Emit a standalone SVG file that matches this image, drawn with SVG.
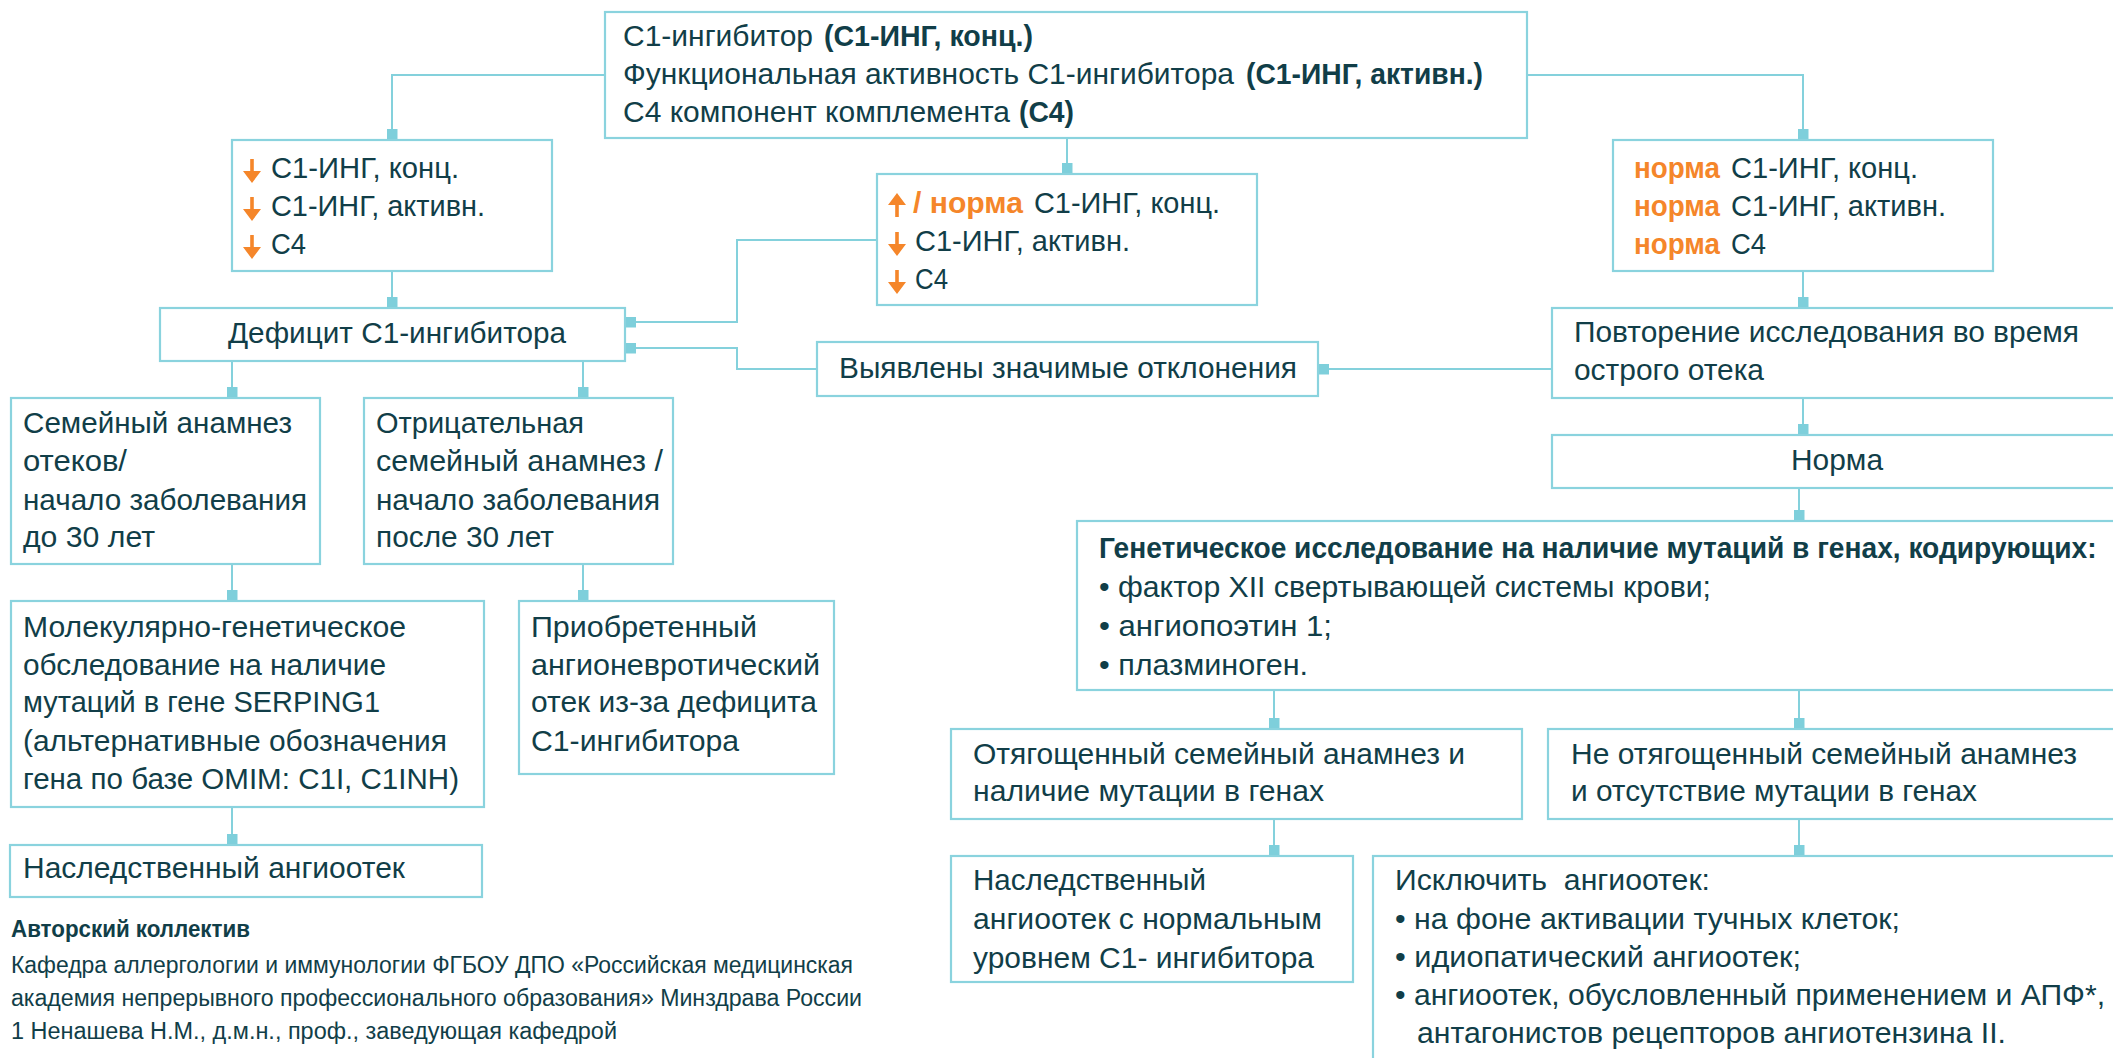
<svg xmlns="http://www.w3.org/2000/svg" xmlns:xlink="http://www.w3.org/1999/xlink" width="2113" height="1058" viewBox="0 0 2113 1058">
<style>
.box{fill:#ffffff;stroke:#8ad3de;stroke-width:2.2}
.c{fill:none;stroke:#84d1dc;stroke-width:2;marker-end:url(#sq)}
.t{font-family:"Liberation Sans",Arial,sans-serif;font-size:29px;fill:#113e48}
.b{font-weight:bold}
.o{fill:#f5862a;font-weight:bold}
.f{font-size:23px}
.arr{fill:#f5862a}
</style>
<defs>
<marker id="sq" markerUnits="userSpaceOnUse" markerWidth="11" markerHeight="11" viewBox="0 0 11 11" refX="11" refY="5.5" orient="auto"><rect width="11" height="11" fill="#7ecfdb"/></marker>
<path id="ad" class="arr" d="M-1.8,0 H1.8 V12 H9 L0,24 L-9,12 H-1.8 Z"/>
<path id="au" class="arr" d="M-1.8,24 H1.8 V12 H9 L0,0 L-9,12 H-1.8 Z"/>
</defs>
<rect width="2113" height="1058" fill="#ffffff"/>

<g id="connectors">
<path class="c" d="M605,75 H392 V140"/>
<path class="c" d="M1527,75 H1803 V140"/>
<path class="c" d="M1067,138 V174"/>
<path class="c" d="M392,271 V308"/>
<path class="c" d="M877,240 H737 V322 H625"/>
<path class="c" d="M817,369 H737 V348 H625"/>
<path class="c" d="M1803,271 V308"/>
<path class="c" d="M1552,369 H1318"/>
<path class="c" d="M1803,398 V435"/>
<path class="c" d="M1799,488 V521"/>
<path class="c" d="M1274,690 V729"/>
<path class="c" d="M1799,690 V729"/>
<path class="c" d="M1274,819 V856"/>
<path class="c" d="M1799,819 V856"/>
<path class="c" d="M232,361 V398"/>
<path class="c" d="M583,361 V398"/>
<path class="c" d="M232,564 V601"/>
<path class="c" d="M583,564 V601"/>
<path class="c" d="M232,807 V845"/>
</g>

<g id="n-top">
<rect class="box" x="605" y="12" width="922" height="126"/>
<text class="t" x="623" y="46" textLength="190" lengthAdjust="spacingAndGlyphs">С1-ингибитор</text>
<text class="t b" x="824" y="46" textLength="209" lengthAdjust="spacingAndGlyphs">(С1-ИНГ, конц.)</text>
<text class="t" x="623" y="84" textLength="611" lengthAdjust="spacingAndGlyphs">Функциональная активность С1-ингибитора</text>
<text class="t b" x="1246" y="84" textLength="237" lengthAdjust="spacingAndGlyphs">(С1-ИНГ, активн.)</text>
<text class="t" x="623" y="122" textLength="387" lengthAdjust="spacingAndGlyphs">С4 компонент комплемента</text>
<text class="t b" x="1019" y="122" textLength="55" lengthAdjust="spacingAndGlyphs">(С4)</text>
</g>

<g id="n-low">
<rect class="box" x="232" y="140" width="320" height="131"/>
<use href="#ad" x="252" y="159"/>
<text class="t" x="271" y="178" textLength="188" lengthAdjust="spacingAndGlyphs">С1-ИНГ, конц.</text>
<use href="#ad" x="252" y="197"/>
<text class="t" x="271" y="216" textLength="214" lengthAdjust="spacingAndGlyphs">С1-ИНГ, активн.</text>
<use href="#ad" x="252" y="235"/>
<text class="t" x="271" y="254" textLength="35" lengthAdjust="spacingAndGlyphs">С4</text>
</g>

<g id="n-mixed">
<rect class="box" x="877" y="174" width="380" height="131"/>
<use href="#au" x="897" y="193"/>
<text class="t o" x="913" y="213" textLength="110" lengthAdjust="spacingAndGlyphs">/ норма</text>
<text class="t" x="1034" y="213" textLength="186" lengthAdjust="spacingAndGlyphs">С1-ИНГ, конц.</text>
<use href="#ad" x="897" y="232"/>
<text class="t" x="915" y="251" textLength="215" lengthAdjust="spacingAndGlyphs">С1-ИНГ, активн.</text>
<use href="#ad" x="897" y="270"/>
<text class="t" x="915" y="289" textLength="33" lengthAdjust="spacingAndGlyphs">С4</text>
</g>

<g id="n-normal">
<rect class="box" x="1613" y="140" width="380" height="131"/>
<text class="t o" x="1634" y="178" textLength="86" lengthAdjust="spacingAndGlyphs">норма</text>
<text class="t" x="1731" y="178" textLength="187" lengthAdjust="spacingAndGlyphs">С1-ИНГ, конц.</text>
<text class="t o" x="1634" y="216" textLength="86" lengthAdjust="spacingAndGlyphs">норма</text>
<text class="t" x="1731" y="216" textLength="215" lengthAdjust="spacingAndGlyphs">С1-ИНГ, активн.</text>
<text class="t o" x="1634" y="254" textLength="86" lengthAdjust="spacingAndGlyphs">норма</text>
<text class="t" x="1731" y="254" textLength="35" lengthAdjust="spacingAndGlyphs">С4</text>
</g>

<g id="n-deficit">
<rect class="box" x="160" y="308" width="465" height="53"/>
<text class="t" x="228" y="343" textLength="338" lengthAdjust="spacingAndGlyphs">Дефицит С1-ингибитора</text>
</g>

<g id="n-found">
<rect class="box" x="817" y="342" width="501" height="54"/>
<text class="t" x="839" y="378" textLength="458" lengthAdjust="spacingAndGlyphs">Выявлены значимые отклонения</text>
</g>

<g id="n-repeat">
<rect class="box" x="1552" y="308" width="580" height="90"/>
<text class="t" x="1574" y="342" textLength="505" lengthAdjust="spacingAndGlyphs">Повторение исследования во время</text>
<text class="t" x="1574" y="380" textLength="190" lengthAdjust="spacingAndGlyphs">острого отека</text>
</g>

<g id="n-norm">
<rect class="box" x="1552" y="435" width="580" height="53"/>
<text class="t" x="1791" y="470" textLength="92" lengthAdjust="spacingAndGlyphs">Норма</text>
</g>

<g id="n-genetic">
<rect class="box" x="1077" y="521" width="1055" height="169"/>
<text class="t b" transform="translate(1099,558) scale(0.86,1)" x="0" y="0" textLength="1160" lengthAdjust="spacingAndGlyphs">Генетическое исследование на наличие мутаций в генах, кодирующих:</text>
<text class="t" x="1099" y="597" textLength="612" lengthAdjust="spacingAndGlyphs">• фактор XII свертывающей системы крови;</text>
<text class="t" x="1099" y="636" textLength="233" lengthAdjust="spacingAndGlyphs">• ангиопоэтин 1;</text>
<text class="t" x="1099" y="675" textLength="209" lengthAdjust="spacingAndGlyphs">• плазминоген.</text>
</g>

<g id="n-burdened">
<rect class="box" x="951" y="729" width="571" height="90"/>
<text class="t" x="973" y="764" textLength="492" lengthAdjust="spacingAndGlyphs">Отягощенный семейный анамнез и</text>
<text class="t" x="973" y="801" textLength="351" lengthAdjust="spacingAndGlyphs">наличие мутации в генах</text>
</g>

<g id="n-notburdened">
<rect class="box" x="1548" y="729" width="584" height="90"/>
<text class="t" x="1571" y="764" textLength="506" lengthAdjust="spacingAndGlyphs">Не отягощенный семейный анамнез</text>
<text class="t" x="1571" y="801" textLength="406" lengthAdjust="spacingAndGlyphs">и отсутствие мутации в генах</text>
</g>

<g id="n-hae-normal">
<rect class="box" x="951" y="856" width="402" height="126"/>
<text class="t" x="973" y="890" textLength="233" lengthAdjust="spacingAndGlyphs">Наследственный</text>
<text class="t" x="973" y="929" textLength="349" lengthAdjust="spacingAndGlyphs">ангиоотек с нормальным</text>
<text class="t" x="973" y="968" textLength="341" lengthAdjust="spacingAndGlyphs">уровнем С1- ингибитора</text>
</g>

<g id="n-exclude">
<rect class="box" x="1373" y="856" width="760" height="220"/>
<text class="t" x="1395" y="890" textLength="315" lengthAdjust="spacingAndGlyphs">Исключить&#160; ангиоотек:</text>
<text class="t" x="1395" y="929" textLength="505" lengthAdjust="spacingAndGlyphs">• на фоне активации тучных клеток;</text>
<text class="t" x="1395" y="967" textLength="406" lengthAdjust="spacingAndGlyphs">• идиопатический ангиоотек;</text>
<text class="t" x="1395" y="1005" textLength="710" lengthAdjust="spacingAndGlyphs">• ангиоотек, обусловленный применением и АПФ*,</text>
<text class="t" x="1417" y="1043" textLength="589" lengthAdjust="spacingAndGlyphs">антагонистов рецепторов ангиотензина II.</text>
</g>

<g id="n-family">
<rect class="box" x="11" y="398" width="309" height="166"/>
<text class="t" x="23" y="433" textLength="269" lengthAdjust="spacingAndGlyphs">Семейный анамнез</text>
<text class="t" x="23" y="471" textLength="104" lengthAdjust="spacingAndGlyphs">отеков/</text>
<text class="t" x="23" y="510" textLength="284" lengthAdjust="spacingAndGlyphs">начало заболевания</text>
<text class="t" x="23" y="547" textLength="132" lengthAdjust="spacingAndGlyphs">до 30 лет</text>
</g>

<g id="n-negative">
<rect class="box" x="364" y="398" width="309" height="166"/>
<text class="t" x="376" y="433" textLength="208" lengthAdjust="spacingAndGlyphs">Отрицательная</text>
<text class="t" x="376" y="471" textLength="287" lengthAdjust="spacingAndGlyphs">семейный анамнез /</text>
<text class="t" x="376" y="510" textLength="284" lengthAdjust="spacingAndGlyphs">начало заболевания</text>
<text class="t" x="376" y="547" textLength="178" lengthAdjust="spacingAndGlyphs">после 30 лет</text>
</g>

<g id="n-molecular">
<rect class="box" x="11" y="601" width="473" height="206"/>
<text class="t" x="23" y="637" textLength="383" lengthAdjust="spacingAndGlyphs">Молекулярно-генетическое</text>
<text class="t" x="23" y="675" textLength="363" lengthAdjust="spacingAndGlyphs">обследование на наличие</text>
<text class="t" x="23" y="712" textLength="357" lengthAdjust="spacingAndGlyphs">мутаций в гене SERPING1</text>
<text class="t" x="23" y="751" textLength="424" lengthAdjust="spacingAndGlyphs">(альтернативные обозначения</text>
<text class="t" x="23" y="789" textLength="436" lengthAdjust="spacingAndGlyphs">гена по базе OMIM: C1I, C1INH)</text>
</g>

<g id="n-acquired">
<rect class="box" x="519" y="601" width="315" height="173"/>
<text class="t" x="531" y="637" textLength="226" lengthAdjust="spacingAndGlyphs">Приобретенный</text>
<text class="t" x="531" y="675" textLength="289" lengthAdjust="spacingAndGlyphs">ангионевротический</text>
<text class="t" x="531" y="712" textLength="286" lengthAdjust="spacingAndGlyphs">отек из-за дефицита</text>
<text class="t" x="531" y="751" textLength="208" lengthAdjust="spacingAndGlyphs">С1-ингибитора</text>
</g>

<g id="n-hae">
<rect class="box" x="10" y="845" width="472" height="52"/>
<text class="t" x="23" y="878" textLength="382" lengthAdjust="spacingAndGlyphs">Наследственный ангиоотек</text>
</g>

<g id="footer">
<text class="t f b" x="11" y="937" textLength="239" lengthAdjust="spacingAndGlyphs">Авторский коллектив</text>
<text class="t f" x="11" y="973" textLength="842" lengthAdjust="spacingAndGlyphs">Кафедра аллергологии и иммунологии ФГБОУ ДПО «Российская медицинская</text>
<text class="t f" x="11" y="1006" textLength="851" lengthAdjust="spacingAndGlyphs">академия непрерывного профессионального образования» Минздрава России</text>
<text class="t f" x="11" y="1039" textLength="606" lengthAdjust="spacingAndGlyphs">1 Ненашева Н.М., д.м.н., проф., заведующая кафедрой</text>
</g>
</svg>
